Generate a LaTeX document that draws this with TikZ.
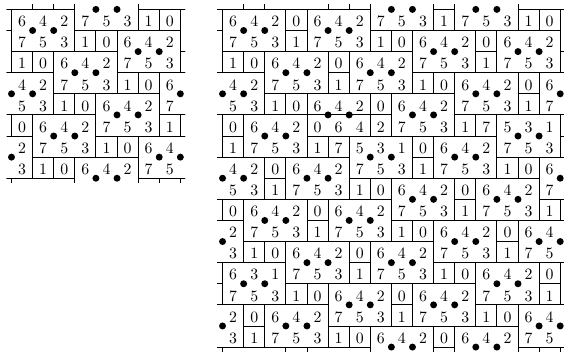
\documentclass[tikz,border=0pt]{standalone}
\begin{document}
\tikzset{
  gl/.style={draw=black, line width=0.55pt},
  dig/.style={anchor=base, inner sep=0pt, font=\fontsize{10}{12}\selectfont},
  dotmark/.style={fill=black},
}
% digit in the cell whose left edge is x=#1 and row is #2, drawn only inside the window
\newcommand\dg[3]{%
  \pgfmathtruncatemacro\okA{((#1)>=0)&&((#1)<\Wd)&&((#2)>=1)&&((#2)<=\Ht)}%
  \ifnum\okA=1 \node[dig] at ({#1+0.5},{0.18-(#2)}) {#3};\fi
}
\newcommand\tileT[5]{%
  \draw[gl] (#1,{1-(#2)}) rectangle ({#1+3},{-1-(#2)});
  \dg{#1}{#2}{#3}\dg{#1+1}{#2}{#4}\dg{#1+2}{#2}{#5}%
  \dg{#1}{#2+1}{7}\dg{#1+1}{#2+1}{5}\dg{#1+2}{#2+1}{3}%
  \fill[dotmark] ({#1+1},{-(#2)}) circle (0.165);
  \fill[dotmark] ({#1+2},{-(#2)}) circle (0.165);
}
\newcommand\tileS[2]{\tileT{#1}{#2}{6}{4}{2}}
\newcommand\cellC[3]{%
  \draw[gl] (#1,{1-(#2)}) rectangle ({#1+1},{-(#2)});
  \dg{#1}{#2}{#3}%
}
\newcommand\barB[5]{%
  \draw[gl] (#1,{1-(#2)}) rectangle ({#1+3},{-(#2)});
  \dg{#1}{#2}{#3}\dg{#1+1}{#2}{#4}\dg{#1+2}{#2}{#5}%
}
\begin{tikzpicture}[x=0.47cm,y=0.47cm]
\useasboundingbox (-0.545,0.445) rectangle (26.18,-16.38);
% ---------------- left figure ----------------
\begin{scope}
\def\Wd{8}\def\Ht{8}
\clip (-0.23,0.21) rectangle (8.23,-8.21);
\tileS{-2}{-1} \tileS{6}{-1} \tileS{3}{0} \tileS{0}{1} \tileS{8}{1}
\tileS{-3}{2} \tileS{5}{2} \tileS{2}{3} \tileS{-1}{4} \tileS{7}{4}
\tileS{4}{5} \tileS{1}{6} \tileS{-2}{7} \tileS{6}{7} \tileS{3}{8}
\tileS{0}{9} \tileS{8}{9}
\cellC{1}{0}{1} \cellC{2}{0}{0}
\cellC{6}{1}{1} \cellC{7}{1}{0} \cellC{-1}{1}{0}
\cellC{3}{2}{1} \cellC{4}{2}{0}
\cellC{0}{3}{1} \cellC{1}{3}{0} \cellC{8}{3}{1}
\cellC{5}{4}{1} \cellC{6}{4}{0}
\cellC{2}{5}{1} \cellC{3}{5}{0}
\cellC{7}{6}{1} \cellC{0}{6}{0} \cellC{8}{6}{0}
\cellC{4}{7}{1} \cellC{5}{7}{0}
\cellC{1}{8}{1} \cellC{2}{8}{0}
\cellC{6}{9}{1} \cellC{7}{9}{0} \cellC{-1}{9}{0}
\end{scope}
% ---------------- right figure ----------------
\begin{scope}[shift={(10,0)}]
\def\Wd{16}\def\Ht{16}
\clip (-0.26,0.21) rectangle (16.26,-16.21);
% regular tiles
\tileS{14}{-1} \tileS{2}{-1} \tileS{-2}{-1}
\tileS{7}{0} \tileS{11}{0}
\tileS{0}{1} \tileS{4}{1} \tileS{16}{1}
\tileS{9}{2} \tileS{13}{2} \tileS{-3}{2}
\tileS{2}{3} \tileS{6}{3}
\tileS{11}{4} \tileS{15}{4} \tileS{-1}{4}
\tileS{8}{5}
\tileS{1}{6} \tileS{-3}{6}
\tileS{10}{7}
\tileS{15}{8} \tileS{-1}{8} \tileS{3}{8}
\tileS{8}{9} \tileS{12}{9}
\tileS{1}{10} \tileS{5}{10}
\tileS{10}{11} \tileS{14}{11} \tileS{-2}{11}
\tileS{3}{12} \tileS{7}{12}
\tileS{12}{13} \tileS{16}{13}
\tileS{5}{14} \tileS{9}{14}
\tileS{14}{15} \tileS{2}{15} \tileS{-2}{15}
\tileS{7}{16} \tileS{11}{16}
\tileS{0}{17} \tileS{4}{17} \tileS{16}{17}
% special pieces
\barB{4}{5}{6}{4}{2}
\fill[dotmark] (5,-5) circle (0.165);
\fill[dotmark] (6,-5) circle (0.165);
\barB{4}{6}{0}{6}{4}
\tileT{13}{6}{5}{3}{1}
\tileT{6}{7}{5}{3}{1}
\tileT{0}{13}{6}{3}{1}
% unit cells
\cellC{10}{0}{0} \cellC{1}{0}{1} \cellC{5}{0}{1} \cellC{6}{0}{0}
\cellC{3}{1}{0} \cellC{10}{1}{1} \cellC{14}{1}{1} \cellC{15}{1}{0} \cellC{-1}{1}{0}
\cellC{12}{2}{0} \cellC{3}{2}{1} \cellC{7}{2}{1} \cellC{8}{2}{0}
\cellC{5}{3}{0} \cellC{12}{3}{1} \cellC{0}{3}{1} \cellC{16}{3}{1} \cellC{1}{3}{0}
\cellC{14}{4}{0} \cellC{5}{4}{1} \cellC{9}{4}{1} \cellC{10}{4}{0}
\cellC{7}{5}{0} \cellC{14}{5}{1} \cellC{2}{5}{1} \cellC{3}{5}{0}
\cellC{0}{6}{0} \cellC{16}{6}{0} \cellC{7}{6}{2} \cellC{11}{6}{1} \cellC{12}{6}{7}
\cellC{9}{7}{0} \cellC{0}{7}{1} \cellC{16}{7}{1} \cellC{4}{7}{1} \cellC{5}{7}{7}
\cellC{2}{8}{0} \cellC{9}{8}{1} \cellC{13}{8}{1} \cellC{14}{8}{0}
\cellC{11}{9}{0} \cellC{2}{9}{1} \cellC{6}{9}{1} \cellC{7}{9}{0}
\cellC{4}{10}{0} \cellC{11}{10}{1} \cellC{15}{10}{1} \cellC{0}{10}{0} \cellC{16}{10}{0}
\cellC{13}{11}{0} \cellC{4}{11}{1} \cellC{8}{11}{1} \cellC{9}{11}{0}
\cellC{6}{12}{0} \cellC{13}{12}{1} \cellC{1}{12}{1} \cellC{2}{12}{0}
\cellC{15}{13}{0} \cellC{6}{13}{1} \cellC{10}{13}{1} \cellC{11}{13}{0} \cellC{-1}{13}{0}
\cellC{8}{14}{0} \cellC{15}{14}{1} \cellC{3}{14}{1} \cellC{4}{14}{0}
\cellC{1}{15}{0} \cellC{8}{15}{1} \cellC{12}{15}{1} \cellC{13}{15}{0}
\cellC{10}{16}{0} \cellC{1}{16}{1} \cellC{5}{16}{1} \cellC{6}{16}{0}
\cellC{3}{17}{0} \cellC{10}{17}{1} \cellC{14}{17}{1} \cellC{15}{17}{0} \cellC{-1}{17}{0}
\end{scope}
\end{tikzpicture}
\end{document}
